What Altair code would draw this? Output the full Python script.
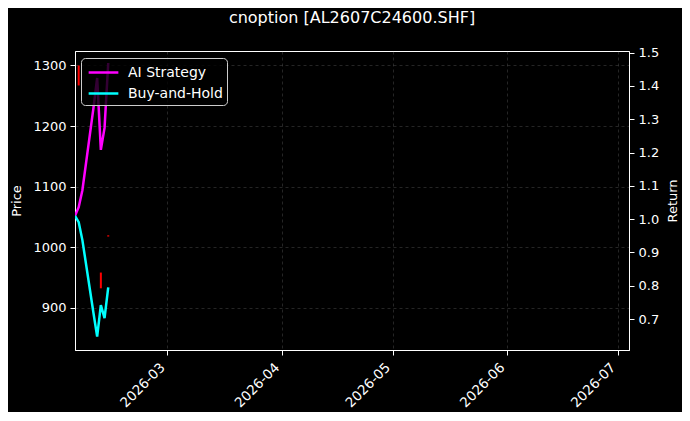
import altair as alt
import pandas as pd

# trading days and normalised equity curves (right axis)
dates = ["2026-02-04", "2026-02-05", "2026-02-06", "2026-02-09",
         "2026-02-10", "2026-02-11", "2026-02-12", "2026-02-13"]
ai_strategy = [1.010, 1.036, 1.087, 1.334, 1.424, 1.208, 1.274, 1.469]
buy_hold = [1.010, 0.991, 0.937, 0.718, 0.647, 0.742, 0.703, 0.795]

# option price candles (left axis)
candle_dates = ["2026-02-05", "2026-02-11", "2026-02-13"]
candle_open = [1300, 958, 1019.5]
candle_close = [1267, 932, 1017.5]

series = ["AI Strategy", "Buy-and-Hold"]
series_colors = ["#ff00ff", "#00ffff"]

lines_df = pd.DataFrame({"date": dates, "AI Strategy": ai_strategy, "Buy-and-Hold": buy_hold}).melt(
    id_vars="date", var_name="series", value_name="ret"
)
candles_df = pd.DataFrame({"date": candle_dates, "open": candle_open, "close": candle_close})

x_enc = alt.X(
    "date:T",
    title=None,
    scale=alt.Scale(
        type="utc",
        domain=[alt.DateTime(year=2026, month=2, date=4, utc=True),
                alt.DateTime(year=2026, month=7, date=4, utc=True)],
    ),
    axis=alt.Axis(
        values=[alt.DateTime(year=2026, month=m, date=1, utc=True) for m in [3, 4, 5, 6, 7]],
        labelExpr="utcFormat(datum.value, '%Y-%m')",
        labelAngle=315, labelAlign="right", labelBaseline="bottom", labelPadding=15,
        labelFontSize=13.5,
    ),
)

candles = alt.Chart(candles_df).mark_rule(color="#ff0000", strokeWidth=2).encode(
    x=x_enc,
    y=alt.Y("open:Q", title="Price",
            scale=alt.Scale(domain=[830.1, 1323.9], nice=False, zero=False),
            axis=alt.Axis(values=[900, 1000, 1100, 1200, 1300], format="d",
                          orient="left", titlePadding=9)),
    y2="close:Q",
)

lines = alt.Chart(lines_df).mark_line(strokeWidth=2.5, clip=True).encode(
    x=x_enc,
    y=alt.Y("ret:Q", title="Return",
            scale=alt.Scale(domain=[0.607, 1.505], nice=False, zero=False),
            axis=alt.Axis(values=[0.7, 0.8, 0.9, 1.0, 1.1, 1.2, 1.3, 1.4, 1.5],
                          format=".1f", orient="right", titleAngle=270, titlePadding=21)),
    color=alt.Color("series:N", scale=alt.Scale(domain=series, range=series_colors),
                    legend=alt.Legend(title=None, orient="none", legendX=6, legendY=7)),
)

chart = alt.layer(candles, lines).resolve_scale(y="independent").properties(
    width=554,
    height=299,
    autosize=alt.AutoSizeParams(type="none"),
    padding={"left": 67, "top": 43, "right": 53, "bottom": 62},
    title=alt.TitleParams("cnoption [AL2607C24600.SHF]", fontSize=16, color="white",
                          fontWeight="normal", anchor="middle", offset=21),
).configure(
    background="black", font="DejaVu Sans"
).configure_view(
    stroke="white", strokeWidth=1
).configure_axis(
    labelColor="white", labelFontSize=13, labelPadding=4,
    titleColor="white", titleFontSize=13, titleFontWeight="normal",
    tickColor="white", tickSize=5, domainColor="white",
    grid=True, gridColor="#b0b0b0", gridOpacity=0.3, gridDash=[3, 3], gridWidth=0.7,
).configure_legend(
    labelColor="white", labelFontSize=14, labelOffset=14,
    symbolType="M-1.65,0H1.65", symbolSize=324, symbolStrokeWidth=2.5, symbolOffset=8,
    fillColor="rgba(0,0,0,0.8)", strokeColor="#cccccc", cornerRadius=4,
    padding=4, rowPadding=3,
)

chart.save("out.html", embed_options={"renderer": "svg", "actions": False})
